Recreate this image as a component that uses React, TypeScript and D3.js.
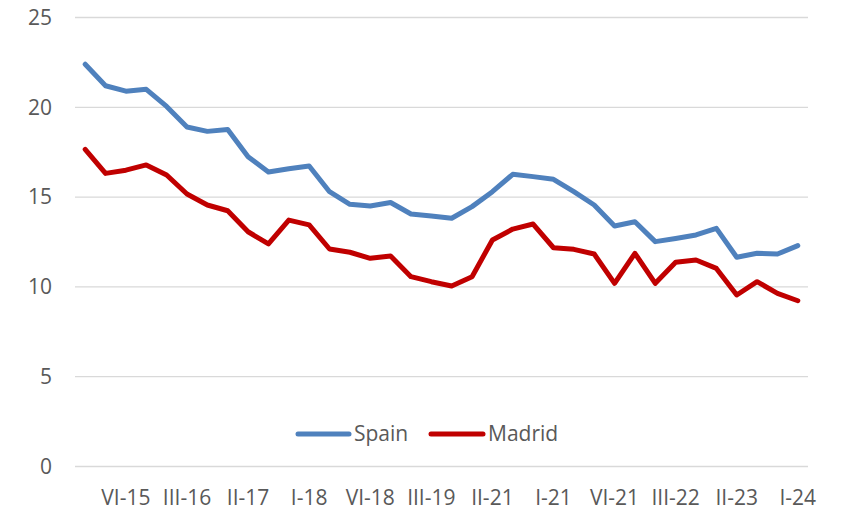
import React from 'react';
import * as d3 from 'd3';

// tick labels shown every third quarter
const tickLabels = ['VI-15', 'III-16', 'II-17', 'I-18', 'VI-18', 'III-19', 'II-21', 'I-21', 'VI-21', 'III-22', 'II-23', 'I-24'];

const spain = [
  22.4, 21.2, 20.9, 21.0, 20.05, 18.9, 18.66, 18.77, 17.25, 16.4, 16.58, 16.73,
  15.3, 14.6, 14.5, 14.7, 14.06, 13.95, 13.82, 14.47, 15.3, 16.27, 16.14, 15.99,
  15.3, 14.56, 13.39, 13.63, 12.52, 12.7, 12.89, 13.26, 11.65, 11.87, 11.83, 12.3
];

const madrid = [
  17.66, 16.32, 16.5, 16.79, 16.23, 15.17, 14.56, 14.24, 13.07, 12.39, 13.72, 13.45,
  12.11, 11.93, 11.59, 11.72, 10.57, 10.29, 10.05, 10.57, 12.61, 13.22, 13.5, 12.18,
  12.09, 11.83, 10.2, 11.87, 10.2, 11.37, 11.5, 11.03, 9.55, 10.29, 9.64, 9.23
];

const yTicks = [0, 5, 10, 15, 20, 25];

const seriesList = [
  { name: 'Spain', values: spain, color: '#4F81BD' },
  { name: 'Madrid', values: madrid, color: '#C00000' }
];

const W = 841, H = 510;
const FONT = '"Open Sans", "Noto Sans", sans-serif';

export default function App() {
  const left = 75, right = 808, top = 17.5, bottom = 466.5;

  const x = d3.scaleBand<number>()
    .domain(d3.range(spain.length))
    .range([left, right]);

  const y = d3.scaleLinear()
    .domain([0, 25])
    .range([bottom, top]);

  const cx = (i: number) => (x(i) as number) + x.bandwidth() / 2;

  const line = d3.line<number>()
    .x((d, i) => cx(i))
    .y(d => y(d));

  // labels sit under every third category, the first on index 2
  const tickIdx = tickLabels.map((_, k) => spain.length - 1 - (tickLabels.length - 1 - k) * 3);

  return (
    <svg width={W} height={H} style={{ position: 'absolute', left: 0, top: 0, background: '#fff' }}>
      {/* grid */}
      {yTicks.map(t => (
        <g key={t}>
          <line x1={left} x2={right} y1={y(t)} y2={y(t)} stroke="#d9d9d9" strokeWidth={1.3} />
          <text x={52} y={y(t)} dy="0.35em" textAnchor="end" fontFamily={FONT} fontSize={21} fill="#595959">{t}</text>
        </g>
      ))}

      {/* x labels */}
      {tickLabels.map((lab, k) => (
        <text key={lab} x={cx(tickIdx[k])} y={505} textAnchor="middle" fontFamily={FONT} fontSize={21} fill="#595959">{lab}</text>
      ))}

      {/* lines */}
      {seriesList.map(s => (
        <path key={s.name} d={line(s.values) || ''} fill="none" stroke={s.color}
          strokeWidth={5} strokeLinejoin="round" strokeLinecap="round" />
      ))}

      {/* legend */}
      <g fontFamily={FONT} fontSize={21} fill="#595959">
        <line x1={298} x2={349} y1={434} y2={434} stroke="#4F81BD" strokeWidth={5} strokeLinecap="round" />
        <text x={354} y={434} dy="0.35em">Spain</text>
        <line x1={431} x2={483} y1={434} y2={434} stroke="#C00000" strokeWidth={5} strokeLinecap="round" />
        <text x={488} y={434} dy="0.35em">Madrid</text>
      </g>
    </svg>
  );
}
